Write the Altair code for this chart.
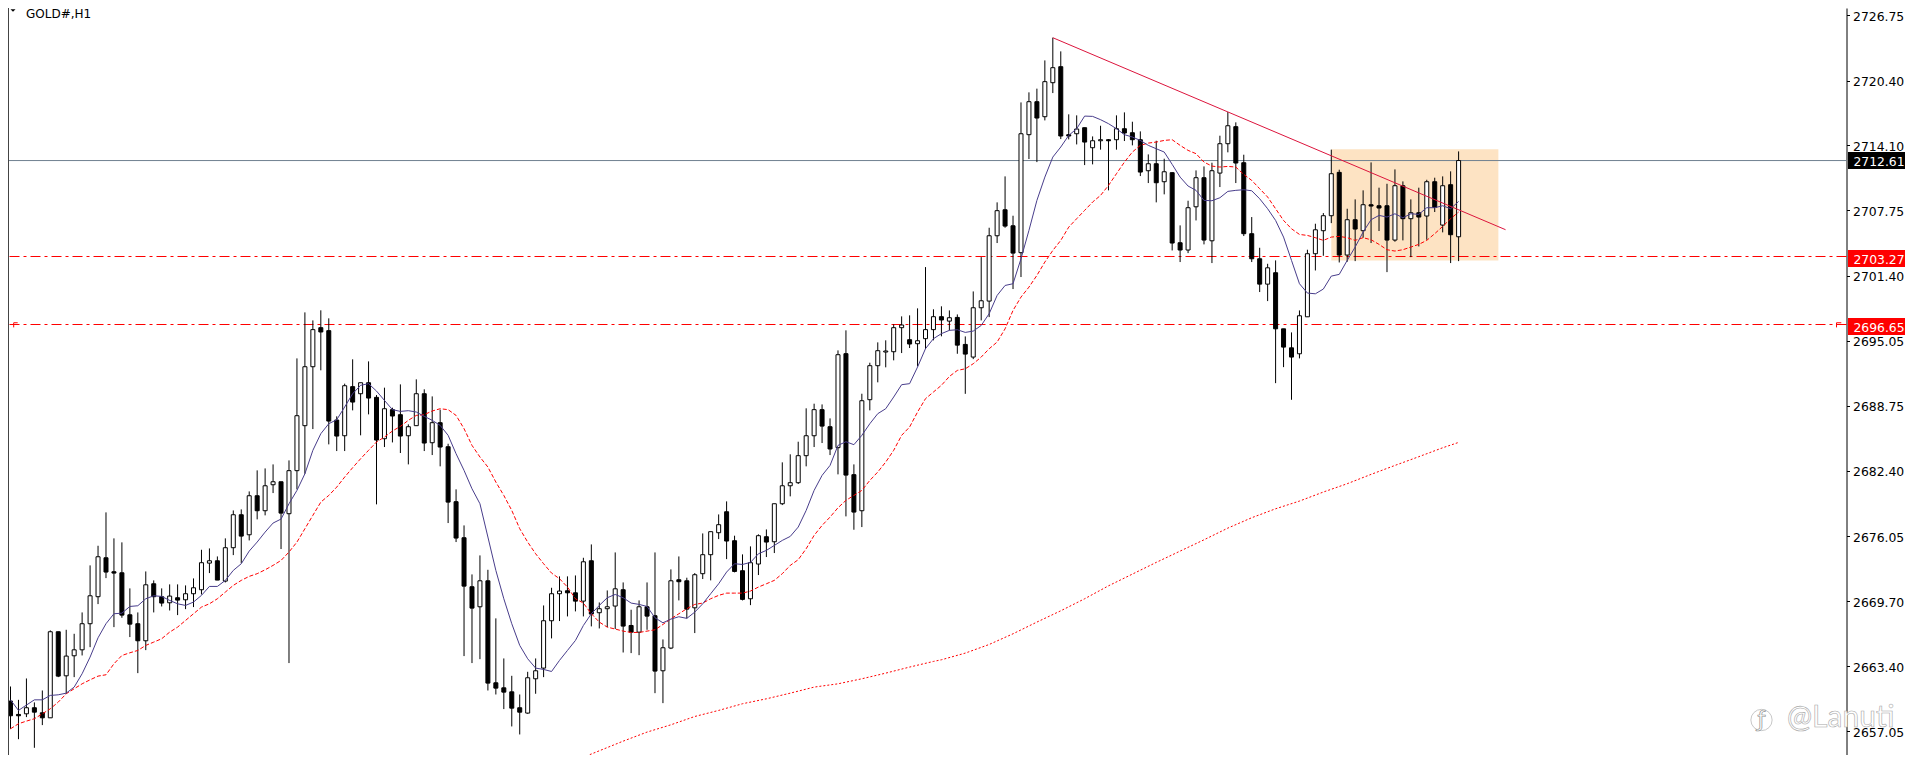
import altair as alt
import pandas as pd

# Candles (oldest first)
highs = [2661.41, 2660.11, 2662.19, 2659.86, 2661.02, 2666.87, 2666.74, 2666.93, 2666.54, 2668.62,
         2673.20, 2675.11, 2678.36, 2675.83, 2675.44, 2670.96, 2668.62, 2672.61, 2671.74, 2670.96,
         2671.35, 2671.35, 2671.25, 2671.93, 2674.72, 2674.85, 2674.07, 2675.83, 2678.55, 2678.65,
         2680.40, 2682.45, 2682.64, 2683.03, 2681.34, 2683.42, 2693.35, 2697.83, 2697.05, 2698.03,
         2697.25, 2687.71, 2690.89, 2693.26, 2690.98, 2693.06, 2689.78, 2690.50, 2688.55, 2690.82,
         2686.93, 2691.31, 2690.34, 2689.65, 2688.36, 2685.04, 2680.60, 2677.09, 2672.32, 2674.17,
         2672.77, 2668.04, 2664.14, 2662.45, 2660.63, 2662.84, 2664.14, 2669.30, 2671.02, 2672.13,
         2672.13, 2672.22, 2673.94, 2675.24, 2669.59, 2670.76, 2674.46, 2671.54, 2668.88, 2669.79,
         2671.54, 2674.46, 2665.99, 2672.81, 2674.07, 2672.00, 2672.45, 2676.31, 2676.48, 2678.16,
         2679.43, 2676.09, 2674.27, 2675.05, 2676.22, 2676.70, 2679.20, 2683.23, 2684.01, 2685.24,
         2688.49, 2688.94, 2688.87, 2687.51, 2694.13, 2696.08, 2683.03, 2689.91, 2692.93, 2694.91,
         2695.11, 2696.67, 2697.44, 2697.54, 2698.22, 2702.24, 2698.13, 2698.42, 2698.02, 2697.63,
         2695.49, 2699.87, 2703.21, 2706.07, 2708.54, 2711.07, 2707.24, 2718.27, 2719.25, 2719.61,
         2722.36, 2724.57, 2723.24, 2717.11, 2717.01, 2715.81, 2714.96, 2716.00, 2714.70, 2717.01,
         2717.30, 2716.39, 2715.45, 2713.21, 2714.54, 2712.79, 2711.46, 2706.30, 2708.70, 2711.65,
         2712.04, 2712.40, 2715.03, 2717.33, 2716.33, 2713.18, 2707.11, 2704.12, 2702.56, 2702.89,
         2696.23, 2695.88, 2698.02, 2703.93, 2706.46, 2707.50, 2713.67, 2711.72, 2707.92, 2708.83,
         2709.71, 2712.43, 2709.97, 2710.35, 2711.75, 2710.58, 2708.83, 2709.97, 2710.74, 2710.94,
         2711.07, 2711.56, 2713.50]
body_tops = [2659.99, 2658.69, 2659.34, 2659.34, 2658.85, 2666.74, 2666.74, 2664.37, 2664.98, 2667.52,
             2670.24, 2674.04, 2673.94, 2672.58, 2672.48, 2668.39, 2667.52, 2671.31, 2671.41, 2670.15,
             2670.21, 2670.05, 2670.44, 2671.02, 2673.46, 2673.65, 2673.65, 2674.92, 2678.13, 2678.13,
             2679.98, 2679.98, 2680.95, 2681.34, 2681.34, 2682.42, 2687.77, 2692.54, 2696.15, 2696.34,
             2696.05, 2687.35, 2690.69, 2690.60, 2690.98, 2690.98, 2689.56, 2688.45, 2688.36, 2687.87,
             2686.70, 2689.91, 2689.91, 2687.09, 2687.09, 2684.75, 2679.40, 2675.89, 2671.12, 2671.70,
             2671.70, 2661.77, 2661.28, 2660.89, 2659.34, 2662.26, 2662.94, 2667.81, 2670.44, 2670.70,
             2670.73, 2670.53, 2673.55, 2673.65, 2668.98, 2669.17, 2670.92, 2670.83, 2667.35, 2669.17,
             2669.17, 2668.30, 2665.18, 2671.70, 2671.80, 2671.70, 2672.29, 2674.24, 2676.48, 2677.16,
             2678.42, 2675.60, 2672.68, 2673.46, 2676.09, 2675.99, 2679.20, 2680.95, 2681.25, 2683.88,
             2685.82, 2688.36, 2688.36, 2686.70, 2693.71, 2693.81, 2682.03, 2689.23, 2692.64, 2694.10,
             2694.07, 2696.34, 2696.60, 2695.17, 2695.07, 2696.15, 2697.41, 2697.41, 2697.31, 2697.34,
             2694.71, 2698.28, 2698.96, 2705.29, 2707.73, 2707.82, 2706.26, 2715.22, 2718.34, 2718.34,
             2720.29, 2721.65, 2721.75, 2715.13, 2715.68, 2715.81, 2714.54, 2714.64, 2714.64, 2715.71,
             2715.71, 2715.32, 2714.64, 2712.30, 2712.30, 2711.52, 2711.43, 2704.61, 2708.02, 2710.94,
             2710.94, 2711.62, 2714.25, 2716.00, 2715.91, 2712.40, 2705.49, 2703.05, 2702.17, 2701.69,
             2696.23, 2694.38, 2697.50, 2703.54, 2705.87, 2707.24, 2711.33, 2711.46, 2706.85, 2706.85,
             2708.31, 2708.31, 2708.21, 2708.21, 2710.16, 2710.16, 2707.53, 2707.53, 2710.55, 2710.55,
             2710.16, 2710.26, 2712.61]
body_bottoms = [2658.56, 2658.56, 2658.75, 2658.91, 2658.36, 2658.36, 2662.42, 2662.45, 2664.40, 2664.98,
                2667.52, 2670.15, 2672.55, 2672.45, 2668.36, 2667.48, 2665.86, 2665.86, 2670.15, 2669.53,
                2669.56, 2669.82, 2669.85, 2670.44, 2670.83, 2673.42, 2671.77, 2671.67, 2674.92, 2676.05,
                2676.18, 2678.52, 2678.52, 2681.05, 2678.29, 2678.23, 2682.42, 2686.80, 2692.54, 2695.92,
                2687.25, 2685.79, 2685.82, 2689.10, 2689.91, 2689.49, 2685.40, 2685.53, 2687.74, 2685.79,
                2685.82, 2686.80, 2685.11, 2685.14, 2684.72, 2679.36, 2675.86, 2671.18, 2669.04, 2669.17,
                2661.74, 2661.25, 2660.86, 2659.30, 2658.91, 2658.82, 2662.16, 2663.20, 2667.81, 2670.44,
                2670.53, 2669.72, 2669.72, 2668.46, 2668.59, 2668.98, 2669.24, 2667.29, 2666.70, 2666.70,
                2668.26, 2662.91, 2662.94, 2665.15, 2671.61, 2668.94, 2669.07, 2672.39, 2674.24, 2676.38,
                2675.57, 2672.61, 2669.89, 2669.95, 2673.33, 2675.47, 2675.50, 2679.20, 2680.95, 2681.25,
                2683.88, 2685.82, 2686.76, 2684.53, 2684.66, 2681.99, 2678.39, 2678.52, 2689.33, 2692.64,
                2693.97, 2694.00, 2696.34, 2694.75, 2694.78, 2695.27, 2696.15, 2697.09, 2696.98, 2694.64,
                2693.77, 2693.48, 2698.28, 2698.93, 2705.29, 2706.23, 2703.60, 2703.64, 2715.13, 2716.75,
                2716.88, 2720.19, 2715.00, 2715.00, 2715.22, 2714.41, 2713.86, 2714.54, 2714.54, 2714.64,
                2715.29, 2714.64, 2711.49, 2711.62, 2710.45, 2710.55, 2704.58, 2703.90, 2703.90, 2708.11,
                2704.87, 2704.80, 2711.39, 2714.25, 2712.37, 2705.49, 2703.05, 2700.58, 2700.58, 2696.23,
                2694.45, 2693.48, 2693.80, 2697.40, 2703.54, 2705.78, 2707.24, 2703.41, 2703.41, 2705.94,
                2705.78, 2708.18, 2707.99, 2704.87, 2704.87, 2706.95, 2706.95, 2707.11, 2707.21, 2708.05,
                2706.33, 2705.39, 2705.19]
lows = [2657.29, 2656.28, 2658.43, 2655.44, 2657.65, 2658.36, 2662.32, 2660.70, 2662.32, 2664.43,
        2665.24, 2669.43, 2671.96, 2667.19, 2668.10, 2666.22, 2662.71, 2664.95, 2668.62, 2669.20,
        2668.81, 2668.36, 2668.94, 2669.14, 2670.37, 2672.45, 2671.77, 2671.54, 2674.20, 2673.42,
        2675.63, 2677.68, 2678.07, 2680.24, 2674.79, 2663.69, 2680.60, 2682.12, 2686.47, 2692.19,
        2684.98, 2684.33, 2684.33, 2688.29, 2685.86, 2687.90, 2679.14, 2684.72, 2685.17, 2684.14,
        2683.03, 2686.80, 2684.33, 2683.94, 2682.84, 2677.32, 2675.47, 2664.37, 2663.69, 2664.07,
        2661.02, 2660.63, 2659.21, 2657.52, 2656.74, 2658.75, 2660.70, 2662.32, 2666.09, 2667.78,
        2668.23, 2668.72, 2668.23, 2667.26, 2667.06, 2667.19, 2667.00, 2664.72, 2664.66, 2664.46,
        2666.93, 2660.76, 2659.79, 2665.05, 2669.79, 2668.04, 2666.61, 2671.87, 2671.74, 2675.76,
        2673.81, 2672.52, 2669.79, 2669.33, 2672.26, 2674.01, 2674.40, 2679.07, 2679.92, 2681.12,
        2682.84, 2684.72, 2685.11, 2683.94, 2682.06, 2677.97, 2676.67, 2676.93, 2688.29, 2691.02,
        2692.48, 2693.16, 2693.87, 2694.36, 2692.58, 2694.26, 2695.11, 2695.50, 2696.07, 2693.80,
        2689.90, 2693.28, 2697.05, 2697.37, 2704.58, 2706.07, 2700.10, 2701.27, 2712.76, 2712.46,
        2716.52, 2719.18, 2714.70, 2714.67, 2714.18, 2712.17, 2712.24, 2713.67, 2709.71, 2713.67,
        2714.51, 2714.09, 2711.10, 2710.42, 2708.54, 2709.32, 2703.86, 2702.73, 2703.60, 2706.78,
        2704.45, 2702.63, 2710.03, 2713.41, 2710.42, 2705.26, 2702.73, 2699.81, 2698.93, 2690.94,
        2692.50, 2689.32, 2693.35, 2697.40, 2701.91, 2703.34, 2706.52, 2702.69, 2702.76, 2702.82,
        2705.10, 2704.58, 2705.75, 2701.75, 2704.71, 2704.84, 2703.21, 2704.25, 2704.90, 2707.60,
        2705.62, 2702.63, 2702.82]
# 1 = hollow (up) candle, 0 = black (down) candle
up = [0, 0, 1, 0, 0, 1, 0, 1, 1, 1,
      1, 1, 0, 0, 0, 0, 0, 1, 0, 0,
      1, 0, 1, 1, 1, 1, 0, 1, 1, 0,
      1, 0, 1, 1, 0, 1, 1, 1, 1, 0,
      0, 0, 1, 0, 1, 0, 0, 1, 0, 0,
      1, 1, 0, 1, 0, 0, 0, 0, 0, 1,
      0, 0, 0, 0, 0, 1, 1, 1, 1, 1,
      0, 0, 1, 0, 1, 1, 1, 0, 0, 1,
      0, 0, 1, 1, 0, 0, 1, 1, 1, 1,
      0, 0, 0, 1, 1, 0, 1, 1, 1, 1,
      1, 1, 0, 0, 1, 0, 0, 1, 1, 1,
      1, 1, 1, 0, 1, 1, 1, 0, 1, 0,
      0, 1, 1, 1, 1, 0, 0, 1, 1, 0,
      1, 1, 0, 0, 1, 0, 1, 1, 0, 1,
      0, 0, 0, 1, 0, 1, 0, 0, 1, 1,
      0, 1, 1, 1, 0, 0, 0, 0, 1, 0,
      0, 0, 1, 1, 1, 1, 1, 0, 1, 0,
      1, 0, 0, 0, 1, 0, 1, 0, 1, 0,
      1, 0, 1]

# Moving averages
ma_fast = [2660.11, 2659.08, 2659.60, 2660.11, 2660.11, 2660.54, 2660.60, 2660.76, 2661.35, 2662.65,
           2664.27, 2666.15, 2667.52, 2668.49, 2668.55, 2669.20, 2669.27, 2669.95, 2670.24, 2670.18,
           2669.79, 2669.46, 2669.30, 2669.63, 2670.28, 2671.15, 2671.15, 2671.74, 2672.71, 2673.36,
           2674.59, 2675.47, 2676.44, 2677.32, 2677.71, 2679.20, 2680.50, 2682.12, 2684.40, 2686.02,
           2686.99, 2687.38, 2688.62, 2689.91, 2690.73, 2690.89, 2690.17, 2689.26, 2688.36, 2688.19,
           2688.26, 2688.13, 2687.71, 2687.32, 2686.83, 2685.86, 2684.07, 2682.45, 2680.66, 2679.20,
           2675.96, 2672.71, 2669.95, 2667.52, 2665.41, 2664.11, 2663.20, 2663.07, 2662.87, 2663.95,
           2664.92, 2665.89, 2667.35, 2668.49, 2669.30, 2670.05, 2670.37, 2670.05, 2669.53, 2669.40,
           2669.20, 2668.10, 2667.61, 2667.97, 2668.20, 2668.04, 2668.65, 2669.46, 2670.44, 2671.41,
           2672.55, 2673.36, 2673.29, 2673.49, 2674.33, 2674.66, 2675.14, 2675.63, 2676.02, 2676.93,
           2678.55, 2680.50, 2681.96, 2682.93, 2684.88, 2685.24, 2684.95, 2685.86, 2686.99, 2687.97,
           2688.45, 2689.59, 2690.79, 2690.89, 2692.51, 2694.30, 2695.27, 2695.76, 2696.08, 2696.14,
           2695.88, 2696.01, 2696.56, 2697.70, 2699.48, 2700.45, 2700.62, 2703.05, 2705.81, 2708.73,
           2711.00, 2712.95, 2713.93, 2715.06, 2715.71, 2716.94, 2716.91, 2716.59, 2716.20, 2715.71,
           2715.13, 2714.90, 2714.57, 2714.09, 2713.76, 2713.44, 2712.24, 2711.00, 2710.13, 2709.71,
           2708.73, 2708.70, 2708.99, 2709.61, 2709.71, 2709.77, 2709.67, 2708.89, 2707.92, 2706.78,
           2705.16, 2702.89, 2700.62, 2699.71, 2699.64, 2700.10, 2701.36, 2701.53, 2702.89, 2704.19,
           2705.65, 2706.85, 2707.27, 2707.11, 2707.43, 2707.04, 2707.43, 2707.37, 2708.02, 2708.02,
           2708.21, 2707.92, 2708.63]
ma_mid = [2657.29, 2657.78, 2658.04, 2658.27, 2658.75, 2659.24, 2659.89, 2660.70, 2661.19, 2661.67,
          2662.06, 2662.42, 2662.55, 2663.62, 2664.43, 2664.69, 2664.92, 2665.41, 2665.73, 2666.06,
          2666.70, 2667.19, 2667.84, 2668.49, 2669.14, 2669.46, 2669.95, 2670.60, 2671.25, 2671.74,
          2672.13, 2672.39, 2672.77, 2673.20, 2673.68, 2674.50, 2675.47, 2676.77, 2678.07, 2679.36,
          2680.01, 2680.82, 2681.80, 2682.71, 2683.58, 2684.40, 2685.21, 2685.69, 2686.28, 2686.73,
          2687.32, 2687.80, 2687.87, 2688.23, 2688.45, 2688.36, 2687.80, 2686.51, 2684.88, 2683.75,
          2682.77, 2681.31, 2680.01, 2678.55, 2676.77, 2675.47, 2674.33, 2673.36, 2672.45, 2671.90,
          2671.09, 2669.95, 2669.53, 2668.49, 2667.68, 2667.19, 2667.00, 2666.80, 2666.67, 2666.67,
          2666.80, 2666.93, 2667.45, 2668.00, 2668.49, 2668.98, 2669.40, 2669.53, 2669.95, 2670.28,
          2670.50, 2670.50, 2670.50, 2670.70, 2671.09, 2671.41, 2671.74, 2672.39, 2673.20, 2673.75,
          2674.82, 2676.12, 2677.09, 2677.90, 2678.81, 2679.53, 2680.01, 2680.50, 2681.47, 2682.29,
          2683.26, 2684.40, 2685.86, 2686.67, 2688.13, 2689.43, 2690.08, 2690.73, 2691.59, 2692.18,
          2692.34, 2692.83, 2693.48, 2694.29, 2694.94, 2696.23, 2698.02, 2699.32, 2700.29, 2701.43,
          2702.73, 2703.86, 2704.84, 2706.13, 2706.95, 2707.76, 2708.57, 2709.22, 2710.19, 2711.33,
          2712.46, 2713.44, 2714.09, 2714.31, 2714.41, 2714.57, 2714.64, 2714.09, 2713.60, 2713.28,
          2712.46, 2712.07, 2711.98, 2712.04, 2711.98, 2711.26, 2710.68, 2709.87, 2709.06, 2707.92,
          2706.78, 2705.97, 2705.42, 2705.32, 2705.10, 2704.84, 2705.16, 2705.23, 2705.10, 2704.84,
          2705.10, 2704.90, 2704.45, 2703.93, 2703.80, 2703.93, 2704.19, 2704.45, 2704.84, 2705.49,
          2706.20, 2706.95, 2707.60]
ma_slow_x = [70, 71, 74, 77, 80, 83, 86, 89, 92, 95, 98, 101, 104, 107, 110, 113, 116,
             117, 120, 123, 126, 129, 132, 135, 138, 141, 144, 147, 150, 153, 156, 159,
             162, 165, 168, 171, 174, 177, 180, 182]
ma_slow = [2653.92, 2654.21, 2655.15, 2656.09, 2656.97, 2657.68, 2658.49, 2659.08, 2659.73,
           2660.21, 2660.76, 2661.35, 2661.67, 2662.16, 2662.71, 2663.30, 2663.85,
           2664.01, 2664.66, 2665.50, 2666.54, 2667.68, 2668.78, 2669.95, 2671.21, 2672.35,
           2673.49, 2674.59, 2675.69, 2676.83, 2677.84, 2678.71, 2679.46, 2680.34, 2681.15,
           2682.06, 2682.93, 2683.78, 2684.65, 2685.17]

tick_values = [2726.75, 2720.40, 2714.10, 2707.75, 2701.40, 2695.05, 2688.75, 2682.40,
               2676.05, 2669.70, 2663.40, 2657.05]
last_price = 2712.61
levels = [2703.27, 2696.65]

candles = pd.DataFrame({'i': range(len(highs)), 'high': highs, 'low': lows,
                        'top': body_tops, 'bottom': body_bottoms, 'up': up})
fast = pd.DataFrame({'i': range(len(ma_fast)), 'v': ma_fast})
mid = pd.DataFrame({'i': range(len(ma_mid)), 'v': ma_mid})
slow = pd.DataFrame({'i': ma_slow_x, 'v': ma_slow})
trend = pd.DataFrame({'i': [131, 187.9], 'v': [2724.57, 2705.88]})
box = pd.DataFrame({'i': [166], 'i2': [187], 'v': [2713.70], 'v2': [2702.89]})
level_df = pd.DataFrame({'v': levels, 'txt': ['%.2f' % v for v in levels]})
last_df = pd.DataFrame({'v': [last_price], 'txt': ['%.2f' % last_price]})

W = 1838.5
H = 747
FONT = 'DejaVu Sans'
xs = alt.Scale(domain=[0.3125, 230.125], nice=False, zero=False)
# 10.272 px per price unit, top of the plot sits at 2727.462
ys = alt.Scale(domain=[2727.462 - H / 10.272, 2727.462], nice=False, zero=False)
y_axis = alt.Axis(orient='right', values=tick_values, format='.2f', title=None, grid=False,
                  domainColor='black', domainWidth=1, tickColor='black', tickSize=3, tickWidth=1,
                  labelColor='black', labelFont=FONT, labelFontSize=12.4, labelPadding=3,
                  labelOverlap=False, labelOffset=1, labelFlush=False)


def X(field='i'):
    return alt.X(field + ':Q', scale=xs, axis=None)


def Y(field='v'):
    return alt.Y(field + ':Q', scale=ys, axis=y_axis)


def line(df, color, **kw):
    return alt.Chart(df).mark_line(color=color, strokeWidth=1, clip=True, **kw).encode(x=X(), y=Y())


orange = alt.Chart(box).mark_rect(color='#FDE3C3').encode(
    x=X(), x2='i2:Q', y=Y(), y2='v2:Q')
price_line = alt.Chart(last_df).mark_rule(color='#708090', strokeWidth=1).encode(y=Y())
level_lines = alt.Chart(level_df).mark_rule(
    color='#FF0000', strokeWidth=1, strokeDash=[10, 4, 3, 4]).encode(y=Y())

wicks = alt.Chart(candles).mark_rule(color='black', strokeWidth=1, clip=True).encode(
    x=X(), y=Y('low'), y2='high:Q')
bodies = alt.Chart(candles).mark_bar(size=4, stroke='black', strokeWidth=1, clip=True,
                                     orient='vertical').encode(
    x=X(), y=Y('bottom'), y2='top:Q',
    fill=alt.condition('datum.up == 1', alt.value('white'), alt.value('black')))

left_border = alt.Chart(last_df).mark_rule(color='#444444', strokeWidth=1).encode(
    x=alt.value(0.5), y=alt.value(0), y2=alt.value(H))

bracket = alt.Chart(pd.DataFrame({'i': [229.5, 229.5, 230.1], 'v': [2696.37, 2696.82, 2696.82]})).mark_line(
    color='#FF0000', strokeWidth=1, clip=True).encode(x=X(), y=Y())
bracket_left = alt.Chart(pd.DataFrame({'i': [0.4, 0.4, 0.9], 'v': [2696.37, 2696.82, 2696.82]})).mark_line(
    color='#FF0000', strokeWidth=1, clip=True).encode(x=X(), y=Y())

tag_last = alt.Chart(last_df).mark_rect(color='black', width=62, height=17).encode(
    x=alt.value(1871), y=Y())
tag_levels = alt.Chart(level_df).mark_rect(color='#FF0000', width=62, height=17, yOffset=2).encode(
    x=alt.value(1871), y=Y())
tag_text = alt.Chart(last_df).mark_text(
    color='white', font=FONT, fontSize=12.4, baseline='middle', align='center', dy=1).encode(
    x=alt.value(1871), y=Y(), text='txt:N')
tag_text2 = alt.Chart(level_df).mark_text(
    color='white', font=FONT, fontSize=12.4, baseline='middle', align='center', dy=3).encode(
    x=alt.value(1871), y=Y(), text='txt:N')

header = pd.DataFrame({'txt': ['GOLD#,H1']})
title_mark = alt.Chart(header).mark_text(
    font=FONT, fontSize=12, color='black', align='left', baseline='middle').encode(
    x=alt.value(18), y=alt.value(6), text='txt:N')
menu_mark = alt.Chart(header).mark_point(
    shape='M -1 -0.5 L 1 -0.5 L 0 0.5 Z', size=25, filled=True, color='black', opacity=1).encode(
    x=alt.value(5), y=alt.value(2.5))

wm = pd.DataFrame({'txt': ['@Lanuti'], 'icon': ['ƒ']})
wm_text = alt.Chart(wm).mark_text(
    font='Lato', fontSize=30, color='white', stroke='#A8A8A8', strokeWidth=0.6,
    align='left', baseline='middle').encode(
    x=alt.value(1779), y=alt.value(710), text='txt:N')
wm_icon = alt.Chart(wm).mark_text(
    font='Lato', fontSize=24, color='white', stroke='#909090', strokeWidth=0.7,
    align='center', baseline='middle').encode(
    x=alt.value(1753.5), y=alt.value(712), text='icon:N')
wm_ring = alt.Chart(wm).mark_point(
    shape='circle', size=452, color='#C8C8C8', strokeWidth=1, filled=False, opacity=1).encode(
    x=alt.value(1753.5), y=alt.value(712))

chart = alt.layer(
    orange, price_line, level_lines, bracket, bracket_left, wicks, bodies,
    line(slow, '#FF0000', strokeDash=[2, 2]),
    line(mid, '#FF0000', strokeDash=[4, 2]),
    line(fast, '#483D8B'),
    line(trend, '#DC143C'),
    left_border, tag_last, tag_levels, tag_text, tag_text2,
    title_mark, menu_mark, wm_ring, wm_icon, wm_text
).properties(
    width=W, height=H, background='white',
    autosize=alt.AutoSizeParams(type='none'),
    padding={'left': 0, 'top': 0, 'right': 58.5, 'bottom': 0}
).configure_view(strokeWidth=0)

chart.save("out.html", embed_options={"renderer": "svg", "actions": False})
